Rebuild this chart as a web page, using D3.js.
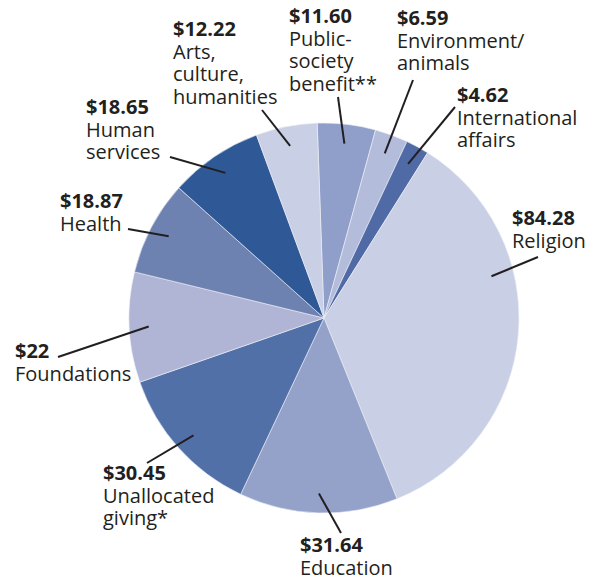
<!DOCTYPE html>
<html>
<head>
<meta charset="utf-8">
<script src="https://cdn.jsdelivr.net/npm/d3@7"></script>
<style>
  body { margin: 0; background: #fff; }
  #chart { width: 592px; height: 580px; }
  .value { font-family: "Open Sans", sans-serif; font-weight: 700; font-size: 20px; fill: #231f20; }
  .name { font-family: "Open Sans", sans-serif; font-size: 20px; fill: #231f20; }
</style>
</head>
<body>
<div id="chart"></div>
<script>
/* DATA (billions of dollars), clockwise from the top */
const categories = ["Public-society benefit**", "Environment/animals", "International affairs", "Religion",
    "Education", "Unallocated giving*", "Foundations", "Health", "Human services", "Arts, culture, humanities"];
const values = [11.60, 6.59, 4.62, 84.28, 31.64, 30.45, 22, 18.87, 18.65, 12.22];
const valueLabels = ["$11.60", "$6.59", "$4.62", "$84.28", "$31.64", "$30.45", "$22", "$18.87", "$18.65", "$12.22"];
const nameLines = [
    ["Public-", "society", "benefit**"],
    ["Environment/", "animals"],
    ["International", "affairs"],
    ["Religion"],
    ["Education"],
    ["Unallocated", "giving*"],
    ["Foundations"],
    ["Health"],
    ["Human", "services"],
    ["Arts,", "culture,", "humanities"]
];
const colors = ["#8f9fca", "#b4bcdc", "#506aa6", "#c9cfe5", "#94a1c9", "#5270a8", "#b0b5d6", "#6e82b2", "#2e5996", "#c9cfe5"];

/* LABEL LAYOUT: text position, outer end of leader line, optional angle of inner end (deg) */
const labelLayout = [
    {x: 289, y: 23, lx: 338, ly: 97},
    {x: 397, y: 25, lx: 413, ly: 80},
    {x: 457, y: 102, lx: 455, ly: 107},
    {x: 512, y: 225, lx: 538, ly: 257, angle: 76},
    {x: 300, y: 552, lx: 341, ly: 533},
    {x: 103, y: 480, lx: 147, ly: 463},
    {x: 15, y: 358, lx: 58, ly: 357},
    {x: 60, y: 208, lx: 128, ly: 229},
    {x: 86, y: 114, lx: 170, ly: 157},
    {x: 173, y: 36, lx: 262, ly: 110}
];

/* DIMENSIONS */
const width = 592, height = 580;
const cx = 324, cy = 318, radius = 195;
const lineHeight = 22.5;

const svg = d3.select("#chart")
    .append("svg")
    .attr("width", width)
    .attr("height", height);

const data = categories.map(function(c, i) {
    return {name: c, value: values[i], label: valueLabels[i], lines: nameLines[i], color: colors[i], layout: labelLayout[i]};
});

/* PIE */
const startDeg = -2;
const pie = d3.pie()
    .sort(null)
    .value(function(d) { return d.value; })
    .startAngle(startDeg * Math.PI / 180)
    .endAngle((startDeg + 360) * Math.PI / 180);

const arc = d3.arc().innerRadius(0).outerRadius(radius);
const innerArc = d3.arc().innerRadius(radius * 0.9).outerRadius(radius * 0.9);

const g = svg.append("g").attr("transform", `translate(${cx},${cy})`);

const arcs = pie(data);

g.selectAll("path")
    .data(arcs)
    .enter()
    .append("path")
        .attr("d", arc)
        .attr("fill", function(d) { return d.data.color; })
        .attr("stroke", "#eef0f7")
        .attr("stroke-width", 0.6);

/* LEADER LINES */
g.selectAll("line.leader")
    .data(arcs)
    .enter()
    .append("line")
        .attr("class", "leader")
        .attr("x1", function(d) {
            if (d.data.layout.angle != null) return Math.sin(d.data.layout.angle * Math.PI / 180) * radius * 0.885;
            return innerArc.centroid(d)[0];
        })
        .attr("y1", function(d) {
            if (d.data.layout.angle != null) return -Math.cos(d.data.layout.angle * Math.PI / 180) * radius * 0.885;
            return innerArc.centroid(d)[1];
        })
        .attr("x2", function(d) { return d.data.layout.lx - cx; })
        .attr("y2", function(d) { return d.data.layout.ly - cy; })
        .attr("stroke", "#231f20")
        .attr("stroke-width", 2);

/* LABELS: one text per line */
data.forEach(function(d) {
    svg.append("text")
        .attr("class", "value")
        .attr("x", d.layout.x)
        .attr("y", d.layout.y)
        .text(d.label);

    d.lines.forEach(function(line, j) {
        svg.append("text")
            .attr("class", "name")
            .attr("x", d.layout.x)
            .attr("y", d.layout.y + lineHeight * (j + 1))
            .text(line);
    });
});
</script>
</body>
</html>
